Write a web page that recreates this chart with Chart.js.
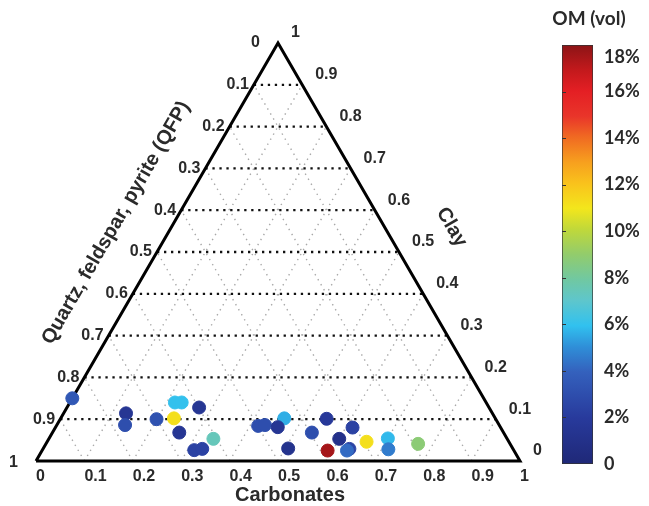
<!DOCTYPE html>
<html>
<head>
<meta charset="utf-8">
<script src="https://cdn.jsdelivr.net/npm/chart.js@4/dist/chart.umd.min.js"></script>
<style>
  html, body { margin: 0; padding: 0; background: #fff; }
  #wrap { position: relative; width: 649px; height: 506px; overflow: hidden; }
  #tern { position: absolute; left: 0; top: 0; }
  #cbar { position: absolute; left: 540px; top: 0; }
</style>
</head>
<body>
<div id="wrap">
  <canvas id="tern" width="555" height="506"></canvas>
  <canvas id="cbar" width="109" height="506"></canvas>
</div>
<script>
// Sample compositions (volume fractions) and organic matter content (vol %)
const carbonates = [0.00, 0.129, 0.141, 0.199, 0.217, 0.231, 0.234, 0.273, 0.262, 0.340,
                    0.314, 0.329, 0.417, 0.430, 0.462, 0.459, 0.506, 0.536, 0.550, 0.600,
                    0.590, 0.633, 0.630, 0.614, 0.660, 0.700, 0.714, 0.769];
const clay       = [0.150, 0.114, 0.086, 0.100, 0.140, 0.140, 0.102, 0.128, 0.068, 0.053,
                    0.026, 0.029, 0.084, 0.086, 0.102, 0.081, 0.030, 0.068, 0.101, 0.053,
                    0.025, 0.029, 0.025, 0.080, 0.046, 0.054, 0.028, 0.041];
const qfp        = [0.850, 0.757, 0.773, 0.701, 0.643, 0.629, 0.664, 0.599, 0.670, 0.607,
                    0.660, 0.642, 0.499, 0.484, 0.436, 0.460, 0.464, 0.396, 0.349, 0.347,
                    0.385, 0.338, 0.345, 0.306, 0.294, 0.246, 0.258, 0.190];
const omVol      = [3.5, 1.5, 3.0, 3.2, 6.0, 6.0, 11.2, 1.5, 1.5, 7.4,
                    2.4, 2.4, 3.0, 3.0, 5.6, 1.5, 1.2, 3.0, 1.8, 1.0,
                    17.5, 2.5, 4.2, 2.4, 11.2, 5.8, 4.6, 8.8];

// Axis ticks
const fracTicks = [0, 0.1, 0.2, 0.3, 0.4, 0.5, 0.6, 0.7, 0.8, 0.9, 1];
const gridTicks = [0.1, 0.2, 0.3, 0.4, 0.5, 0.6, 0.7, 0.8, 0.9];
const omTicks = [0, 2, 4, 6, 8, 10, 12, 14, 16, 18];
const omMin = 0, omMax = 18;

// Jet-like colour map used for both the markers and the colour bar
const cmapStops = [
  [0.00, '#1f2877'], [0.11, '#283a9c'], [0.22, '#3461bd'], [0.28, '#2f8fd8'],
  [0.33, '#31c1ef'], [0.39, '#5ec6cc'], [0.44, '#70c8a2'], [0.50, '#92cc6c'],
  [0.56, '#c0d83a'], [0.61, '#f3e61c'], [0.67, '#f9c21c'], [0.72, '#f7a01e'],
  [0.78, '#f06a22'], [0.83, '#e9352a'], [0.89, '#e41f24'], [0.94, '#c3191c'],
  [1.00, '#8c1416']
];
function hexRgb(h) { return [1, 3, 5].map(i => parseInt(h.substr(i, 2), 16)); }
function cmap(v) {
  const t = Math.max(0, Math.min(1, (v - omMin) / (omMax - omMin)));
  for (let i = 1; i < cmapStops.length; i++) {
    const [t1, c1] = cmapStops[i];
    const [t0, c0] = cmapStops[i - 1];
    if (t <= t1) {
      const f = (t - t0) / (t1 - t0);
      const a = hexRgb(c0), b = hexRgb(c1);
      return 'rgb(' + a.map((x, k) => Math.round(x + (b[k] - x) * f)).join(',') + ')';
    }
  }
  return cmapStops[cmapStops.length - 1][1];
}

// Ternary (carbonates, clay, QFP) -> cartesian; QFP corner at lower left
const H = Math.sqrt(3) / 2;
function tern(c, cl) { return { x: c + cl / 2, y: cl * H }; }

const points = carbonates.map((c, i) => {
  const s = c + clay[i] + qfp[i];
  return tern(c / s, clay[i] / s);
});

const datasets = [{
  label: 'samples',
  data: points,
  backgroundColor: omVol.map(cmap),
  borderColor: omVol.map(cmap),
  borderWidth: 1,
  pointRadius: 6.5,
  showLine: false,
  clip: false
}, {
  label: 'outline',
  data: [tern(0, 0), tern(1, 0), tern(0, 1), tern(0, 0)],
  showLine: true,
  borderColor: '#000',
  borderWidth: 3,
  borderJoinStyle: 'miter',
  pointRadius: 0,
  clip: false
}];

// Constant clay lines (black dotted)
gridTicks.forEach(v => datasets.push({
  data: [tern(0, v), tern(1 - v, v)],
  showLine: true, borderColor: '#111', borderWidth: 2.3,
  borderDash: [2.3, 4.7], pointRadius: 0, clip: false
}));
// Constant carbonate and constant QFP lines (light grey dotted)
gridTicks.forEach(v => {
  datasets.push({
    data: [tern(v, 0), tern(v, 1 - v)],
    showLine: true, borderColor: '#a8a8a8', borderWidth: 1.4,
    borderDash: [1.4, 4.4], pointRadius: 0, clip: false
  });
  datasets.push({
    data: [tern(v, 0), tern(0, v)],
    showLine: true, borderColor: '#a8a8a8', borderWidth: 1.4,
    borderDash: [1.4, 4.4], pointRadius: 0, clip: false
  });
});

const textColor = '#2a2a2a';
const tickFont = 'bold 16px "Liberation Sans", Arial, sans-serif';
const titleFont = 'bold 20px "Liberation Sans", Arial, sans-serif';

const ternaryLabels = {
  id: 'ternaryLabels',
  afterDraw(chart) {
    const { ctx, scales: { x, y } } = chart;
    const px = (c, cl) => {
      const p = tern(c, cl);
      return { x: x.getPixelForValue(p.x), y: y.getPixelForValue(p.y) };
    };
    ctx.save();
    ctx.fillStyle = textColor;
    ctx.font = tickFont;
    ctx.textBaseline = 'middle';
    fracTicks.forEach(v => {
      const lbl = String(v);
      // QFP along the left edge
      let p = px(0, 1 - v);
      ctx.textAlign = 'right';
      const off = (v === 0 || v === 1) ? 18 : 5;
      ctx.fillText(lbl, p.x - off, p.y + (v === 1 ? 2 : 0));
      // Clay along the right edge
      p = px(1 - v, v);
      ctx.textAlign = 'left';
      ctx.fillText(lbl, p.x + 13, p.y - 10);
      // Carbonates along the base
      p = px(v, 0);
      ctx.textAlign = 'left';
      ctx.fillText(lbl, p.x, p.y + 16);
    });

    ctx.font = titleFont;
    ctx.textAlign = 'center';
    // Base title
    let p = px(0.5, 0);
    ctx.fillText('Carbonates', p.x + 12, p.y + 34);
    // Right edge title
    p = px(0.51, 0.49);
    ctx.save();
    ctx.translate(p.x + 58 * 0.866, p.y - 58 * 0.5);
    ctx.rotate(Math.PI / 3);
    ctx.fillText('Clay', 0, 0);
    ctx.restore();
    // Left edge title
    p = px(0, 0.51);
    ctx.save();
    ctx.translate(p.x - 50 * 0.866, p.y - 50 * 0.5);
    ctx.rotate(-Math.PI / 3);
    ctx.fillText('Quartz, feldspar, pyrite (QFP)', 0, 0);
    ctx.restore();
    ctx.restore();
  }
};

new Chart(document.getElementById('tern'), {
  type: 'scatter',
  data: { datasets },
  options: {
    responsive: false,
    animation: false,
    layout: { padding: { left: 36, right: 35, top: 43, bottom: 45 } },
    plugins: { legend: { display: false }, tooltip: { enabled: false } },
    scales: {
      x: { type: 'linear', min: 0, max: 1, display: false },
      y: { type: 'linear', min: 0, max: H, display: false }
    }
  },
  plugins: [ternaryLabels]
});

// Colour bar
const cbarFont = 'bold 18px Lato, "Open Sans", sans-serif';
const cbarLabels = {
  id: 'cbarLabels',
  afterDraw(chart) {
    const { ctx, chartArea: ca, scales: { y } } = chart;
    ctx.save();
    ctx.fillStyle = textColor;
    ctx.font = cbarFont;
    ctx.textBaseline = 'middle';
    ctx.textAlign = 'left';
    ctx.strokeStyle = '#333';
    ctx.lineWidth = 1;
    omTicks.forEach(v => {
      const py = y.getPixelForValue(v);
      if (v !== omMin && v !== omMax) {
        ctx.beginPath();
        ctx.moveTo(ca.left, Math.round(py) + 0.5);
        ctx.lineTo(ca.left + 4, Math.round(py) + 0.5);
        ctx.stroke();
      }
      const ly = Math.max(py, ca.top + 12);
      ctx.fillText(v === 0 ? '0' : v + '%', ca.right + 11, ly);
    });
    ctx.font = 'bold 19px Lato, "Open Sans", sans-serif';
    ctx.textAlign = 'center';
    ctx.fillText('OM (vol)', 49, 19);
    ctx.restore();
  }
};

new Chart(document.getElementById('cbar'), {
  type: 'bar',
  data: {
    labels: ['OM'],
    datasets: [{
      data: [omMax],
      backgroundColor(ctx) {
        const ca = ctx.chart.chartArea;
        if (!ca) return '#888';
        const g = ctx.chart.ctx.createLinearGradient(0, ca.bottom, 0, ca.top);
        cmapStops.forEach(([t, c]) => g.addColorStop(t, c));
        return g;
      },
      borderColor: '#333',
      borderWidth: 1,
      borderSkipped: false,
      barPercentage: 1,
      categoryPercentage: 1
    }]
  },
  options: {
    responsive: false,
    animation: false,
    layout: { padding: { left: 22, right: 56, top: 45, bottom: 42 } },
    plugins: { legend: { display: false }, tooltip: { enabled: false } },
    scales: {
      x: { display: false },
      y: { display: false, min: omMin, max: omMax }
    }
  },
  plugins: [cbarLabels]
});
</script>
</body>
</html>
